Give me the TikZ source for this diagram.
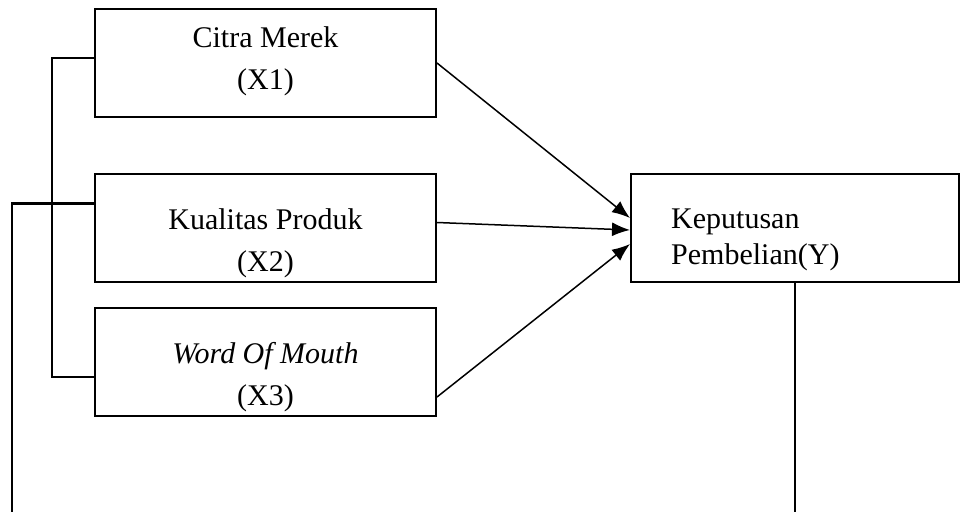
\documentclass[tikz,border=0pt]{standalone}
\usepackage{fontspec}
\setmainfont{Liberation Serif}
\usetikzlibrary{positioning,calc,arrows.meta}
\tikzset{
 varbox/.style={draw, line width=2pt, minimum width=341pt, minimum height=108pt, inner sep=0pt},
 vartext/.style={inner sep=0pt, align=center, font=\fontsize{30}{42}\selectfont},
 ytext/.style={inner sep=0pt, align=left, font=\fontsize{30}{36}\selectfont},
 bracket/.style={line width=2.8pt},
 link/.style={line width=1.5pt, -{Latex[length=18pt,width=14pt]}}
}
\begin{document}
\begin{tikzpicture}[x=1pt,y=-1pt]
\useasboundingbox (0,0) rectangle (961,512);

\node [varbox] (x1) at (265.5,63) {}; \node [vartext, below=18pt of x1.north] (x1t) {Citra Merek\\(X1)};
\node [varbox] (x2) at (265.5,227.5) {}; \node [vartext, below=36pt of x2.north] (x2t) {Kualitas Produk\\(X2)};
\node [varbox] (x3) at (265.5,362) {}; \node [vartext, below=35pt of x3.north] (x3t) {\textit{Word Of Mouth}\\(X3)};

\node [varbox, minimum width=328pt] (y) at (795,228) {};
\node [ytext, below right=36pt and 41pt of y.north west] (yt) {Keputusan\\Pembelian(Y)};

\draw [link] (x1.east) -- ($(y.west)+(0,-10)$);
\draw [link] ($(x2.east)+(0,-5)$) -- ($(y.west)+(0,2)$);
\draw [link] ($(x3.east)+(0,35)$) -- ($(y.west)+(0,16)$);

\coordinate (bl) at (12,512); \coordinate (br) at (y.south |- bl);
\draw [bracket] ($(x1.west)+(0,-5)$) -| ($(x3.west)+(-42,15)$) -- ($(x3.west)+(0,15)$);
\draw [bracket] ($(x2.west)+(0,-24)$) -| (bl);
\draw [line width=1.5pt] (y.south) -- (br);
\end{tikzpicture}
\end{document}
